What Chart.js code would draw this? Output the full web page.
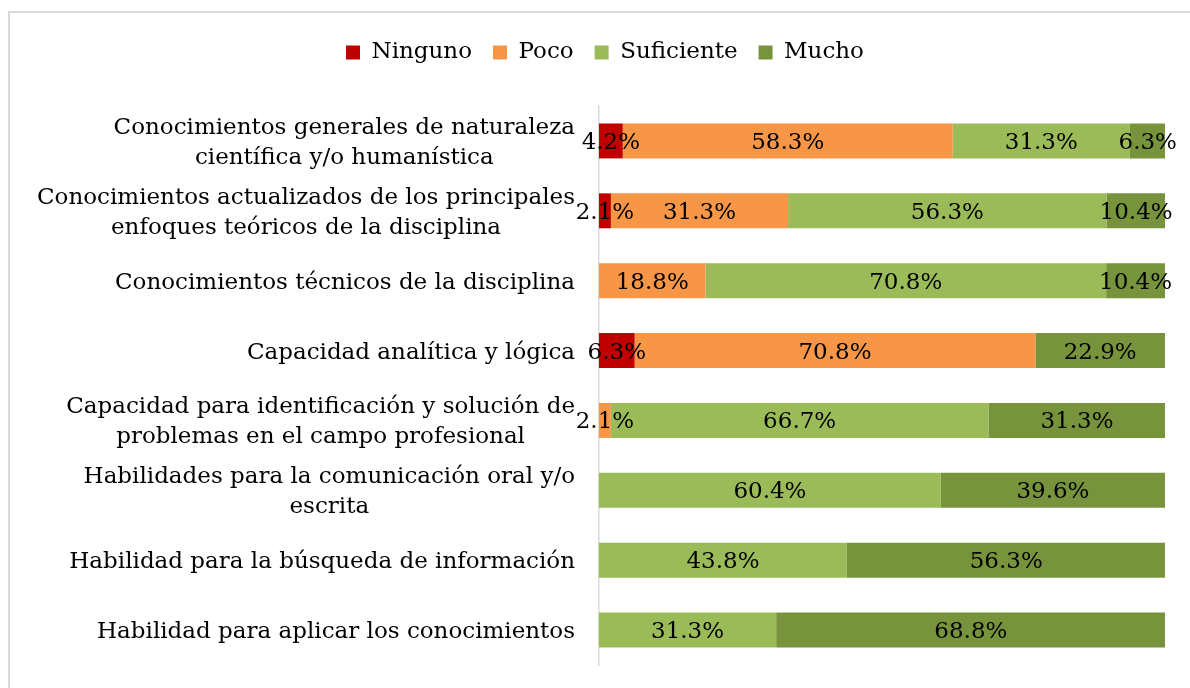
<!DOCTYPE html>
<html>
<head>
<meta charset="utf-8">
<script src="https://cdn.jsdelivr.net/npm/chart.js@4.4.1/dist/chart.umd.min.js"></script>
<style>
  html, body { margin: 0; padding: 0; background: #fff; }
  #wrap { position: relative; width: 1190px; height: 688px; overflow: hidden; }
  #frame {
    position: absolute; left: 8px; top: 11px; width: 1300px; height: 800px;
    border-left: 2px solid #d9d9d9; border-top: 2px solid #d9d9d9;
  }
  #chart { position: absolute; left: 0; top: 0; }
</style>
</head>
<body>
<div id="wrap">
  <div id="frame"></div>
  <canvas id="chart" width="1190" height="688"></canvas>
</div>
<script>
const categories = [
    ['Conocimientos generales de naturaleza', 'científica y/o humanística'],
    ['Conocimientos actualizados de los principales', 'enfoques teóricos de la disciplina'],
    'Conocimientos técnicos de la disciplina',
    'Capacidad analítica y lógica',
    ['Capacidad para identificación y solución de', 'problemas en el campo profesional'],
    ['Habilidades para la comunicación oral y/o', 'escrita'],
    'Habilidad para la búsqueda de información',
    'Habilidad para aplicar los conocimientos'
];

const ninguno    = [4.2, 2.1, 0, 6.3, 0, 0, 0, 0];
const poco       = [58.3, 31.3, 18.8, 70.8, 2.1, 0, 0, 0];
const suficiente = [31.3, 56.3, 70.8, 0, 66.7, 60.4, 43.8, 31.3];
const mucho      = [6.3, 10.4, 10.4, 22.9, 31.3, 39.6, 56.3, 68.8];

const FONT = '"DejaVu Serif", "Liberation Serif", serif';
const FONT_SIZE = 23;

// extra room between the legend and the bars
const legendGap = {
    id: 'legendGap',
    beforeInit(chart) {
        const fit = chart.legend.fit;
        chart.legend.fit = function () {
            fit.call(this);
            this.height += 32;
        };
    }
};

// percentage text in the middle of every segment
const segmentLabels = {
    id: 'segmentLabels',
    afterDatasetsDraw(chart) {
        const ctx = chart.ctx;
        ctx.save();
        ctx.font = FONT_SIZE + 'px ' + FONT;
        ctx.fillStyle = '#000';
        ctx.textAlign = 'center';
        ctx.textBaseline = 'middle';
        chart.data.datasets.forEach((ds, di) => {
            const meta = chart.getDatasetMeta(di);
            meta.data.forEach((bar, i) => {
                const v = ds.data[i];
                if (!v) return;
                ctx.fillText(v.toFixed(1) + '%', (bar.x + bar.base) / 2, bar.y + 2);
            });
        });
        ctx.restore();
    }
};

// category names: block right-aligned to the axis, lines centered inside the block
const categoryLabels = {
    id: 'categoryLabels',
    afterDraw(chart) {
        const ctx = chart.ctx;
        const scale = chart.scales.y;
        const right = scale.right - 24;
        const lineH = 30;
        ctx.save();
        ctx.font = FONT_SIZE + 'px ' + FONT;
        ctx.fillStyle = '#000';
        ctx.textAlign = 'center';
        ctx.textBaseline = 'middle';
        categories.forEach((label, i) => {
            const lines = Array.isArray(label) ? label : [label];
            const w = Math.max(...lines.map(l => ctx.measureText(l).width));
            const cx = right - w / 2;
            const y0 = scale.getPixelForTick(i) - (lines.length - 1) * lineH / 2;
            lines.forEach((l, k) => ctx.fillText(l, cx, y0 + k * lineH + 2));
        });
        ctx.restore();
    }
};

const ctx = document.getElementById('chart').getContext('2d');
const chart = new Chart(ctx, {
    type: 'bar',
    data: {
        labels: categories,
        datasets: [
            { label: 'Ninguno', data: ninguno, backgroundColor: '#c00000' },
            { label: 'Poco', data: poco, backgroundColor: '#f79646' },
            { label: 'Suficiente', data: suficiente, backgroundColor: '#9bbb59' },
            { label: 'Mucho', data: mucho, backgroundColor: '#77933c' }
        ]
    },
    options: {
        indexAxis: 'y',
        responsive: false,
        animation: false,
        layout: { padding: { left: 45, right: 25, top: 20, bottom: 23 } },
        datasets: {
            bar: { categoryPercentage: 0.5, barPercentage: 1, borderWidth: 0 }
        },
        scales: {
            x: {
                stacked: true,
                min: 0,
                max: 100,
                display: false
            },
            y: {
                stacked: true,
                grid: { display: false, drawTicks: false },
                border: { display: true, color: '#d9d9d9', width: 1.5 },
                ticks: { display: false },
                afterFit(scale) {
                    scale.width = 554;
                    scale.paddingTop = 0;
                    scale.paddingBottom = 0;
                }
            }
        },
        plugins: {
            legend: {
                position: 'top',
                labels: {
                    boxWidth: 14,
                    boxHeight: 14,
                    padding: 21,
                    color: '#000',
                    font: { family: FONT, size: FONT_SIZE }
                }
            },
            tooltip: { enabled: false }
        }
    },
    plugins: [legendGap, segmentLabels, categoryLabels]
});
</script>
</body>
</html>
